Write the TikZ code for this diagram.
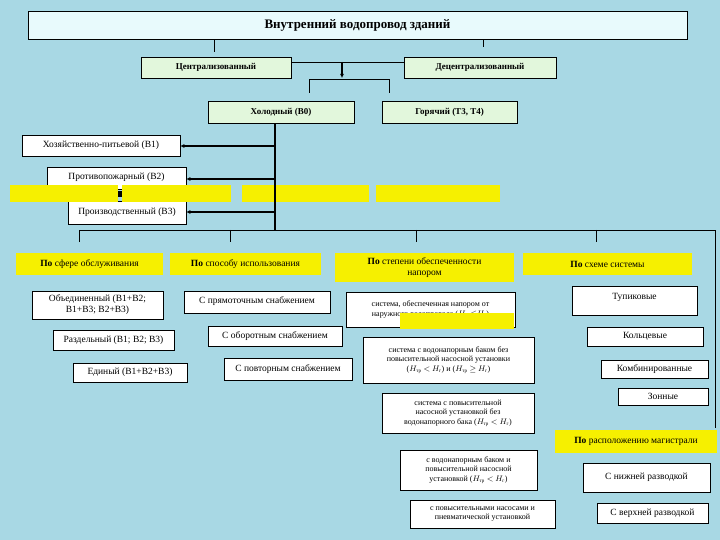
\documentclass[tikz,border=0pt]{standalone}
\usepackage{fontspec}
\setmainfont{Liberation Serif}
\usetikzlibrary{arrows.meta}
\definecolor{bgc}{RGB}{168,216,228}
\definecolor{grn}{RGB}{226,247,220}
\definecolor{ttl}{RGB}{232,250,252}
\definecolor{yel}{RGB}{246,240,0}
\newcommand\bx[7]{\node[#6,minimum width={(#4-#2)*1pt},minimum height={(#5-#3)*1pt}] (#1) at ({(#2+#4)/2},{(#3+#5)/2}) {#7};}
\newcommand\Hs[1]{$H_{\mbox{\tiny #1}}$}
\begin{document}
\begin{tikzpicture}[x=1pt,y=-1pt,
  base/.style={draw=black,line width=0.5pt,inner sep=0pt,align=center,font=\fontsize{9.5}{11}\selectfont},
  wb/.style={base,fill=white},
  gb/.style={base,fill=grn,font=\fontsize{9}{10}\selectfont\bfseries},
  yb/.style={draw=none,fill=yel,inner sep=0pt,align=center,font=\fontsize{9.5}{11}\selectfont},
  sm/.style={font=\fontsize{8}{9.5}\selectfont},
  ln/.style={line width=0.6pt},
  th/.style={line width=1.3pt,-{Latex[length=4pt,width=4pt]}}]
\useasboundingbox (0,0) rectangle (720,540);
\fill[bgc] (0,0) rectangle (720,540);
\bx{title}{28}{11}{687}{39}{base,fill=ttl,font=\fontsize{13}{15}\selectfont\bfseries}{Внутренний водопровод зданий}
\bx{cen}{141}{57}{291}{78}{gb}{Централизованный}
\bx{dec}{404}{57}{556}{78}{gb}{Децентрализованный}
\bx{cold}{208}{101}{354}{123}{gb}{Холодный (В0)}
\bx{hot}{382}{101}{517}{123}{gb}{Горячий (Т3, Т4)}
\bx{b1}{22}{135}{180}{156}{wb}{Хозяйственно-питьевой (В1)}
\bx{b2}{47}{167}{186}{189}{wb}{\raisebox{4pt}{Противопожарный (В2)}}
\bx{b3}{68}{201}{186}{224}{wb}{\raisebox{1pt}{Производственный (В3)}}
% yellow strip
\fill[black] (116,191) rectangle (124,197);
\bx{y1}{10}{185}{118}{202}{yb}{}
\bx{y2}{122}{185}{231}{202}{yb}{}
\bx{y3}{242}{185}{369}{202}{yb}{}
\bx{y4}{376}{185}{500}{202}{yb}{}
% connectors top
\draw[ln] (title.south -| 214,0) -- (214,52);
\draw[ln] (title.south -| 483,0) -- (483,47);
\coordinate (m) at (342,62);
\draw[ln] (cen.east |- m) -- (dec.west |- m);
\draw[line width=1.2pt,-{Latex[length=4pt,width=4pt]}] (m) -- (342,78);
\coordinate (hl) at (309,79);
\coordinate (hr) at (389,79);
\draw[ln] (309,93) -- (hl) -- (hr) -- (389,93);
% cold trunk
\coordinate (tb) at (275,230);
\draw[line width=1.3pt] (cold.south -| tb) -- (tb);
\draw[th] (275,146) -- (b1.east |- 0,146);
\draw[th] (275,179) -- (b2.east |- 0,179);
\draw[th] (275,212) -- (b3.east |- 0,212);
% categories
\bx{c1}{16}{253}{163}{275}{yb}{\textbf{По} сфере обслуживания}
\bx{c2}{170}{253}{321}{275}{yb}{\textbf{По} способу использования}
\bx{c3}{335}{253}{514}{282}{yb}{\textbf{По} степени обеспеченности\\напором}
\bx{c4}{523}{253}{692}{275}{yb}{\textbf{По} схеме системы}
\draw[ln] (79,242) -- (79,230) -- (715,230) -- (715,428);
\draw[ln] (230,230) -- (230,242);
\draw[ln] (416,230) -- (416,242);
\draw[ln] (596,230) -- (596,242);
% column 1
\bx{o1}{32}{291}{163}{319}{wb}{Объединенный (В1+В2;\\В1+В3; В2+В3)}
\bx{o2}{53}{330}{174}{350}{wb}{Раздельный (В1; В2; В3)}
\bx{o3}{73}{363}{187}{382}{wb}{Единый (В1+В2+В3)}
% column 2
\bx{p1}{184}{291}{330}{313}{wb}{\raisebox{3pt}{С прямоточным снабжением}}
\bx{p2}{208}{326}{342}{346}{wb}{С оборотным снабжением}
\bx{p3}{224}{358}{352}{380}{wb}{С повторным снабжением}
% column 3
\bx{n1}{346}{292}{515}{327}{wb,sm}{\raisebox{5pt}{\begin{tabular}{@{}c@{}}система, обеспеченная напором от\\наружного водопровода (\Hs{тр}$\le$\Hs{г})\end{tabular}}}
\bx{n1y}{400}{313}{514}{329}{yb}{}
\bx{n2}{363}{337}{534}{383}{wb,sm}{система с водонапорным баком без\\повысительной насосной установки\\(\Hs{тр} $<$ \Hs{г}) и (\Hs{тр} $\ge$ \Hs{г})}
\bx{n3}{382}{393}{534}{433}{wb,sm}{система с повысительной\\насосной установкой без\\водонапорного бака (\Hs{тр} $<$ \Hs{г})}
\bx{n4}{400}{450}{537}{490}{wb,sm}{с водонапорным баком и\\повысительной насосной\\установкой (\Hs{тр} $<$ \Hs{г})}
\bx{n5}{410}{500}{555}{528}{wb,sm}{с повысительными насосами и\\пневматической установкой}
% column 4
\bx{s1}{572}{286}{697}{315}{wb}{\raisebox{8pt}{Тупиковые}}
\bx{s2}{587}{327}{703}{346}{wb}{Кольцевые}
\bx{s3}{601}{360}{708}{378}{wb}{Комбинированные}
\bx{s4}{618}{388}{708}{405}{wb}{Зонные}
\bx{r0}{555}{430}{717}{453}{yb}{\textbf{По} расположению магистрали}
\bx{r1}{583}{463}{710}{492}{wb}{\raisebox{3pt}{С нижней разводкой}}
\bx{r2}{597}{503}{708}{523}{wb}{С верхней разводкой}
\end{tikzpicture}
\end{document}
